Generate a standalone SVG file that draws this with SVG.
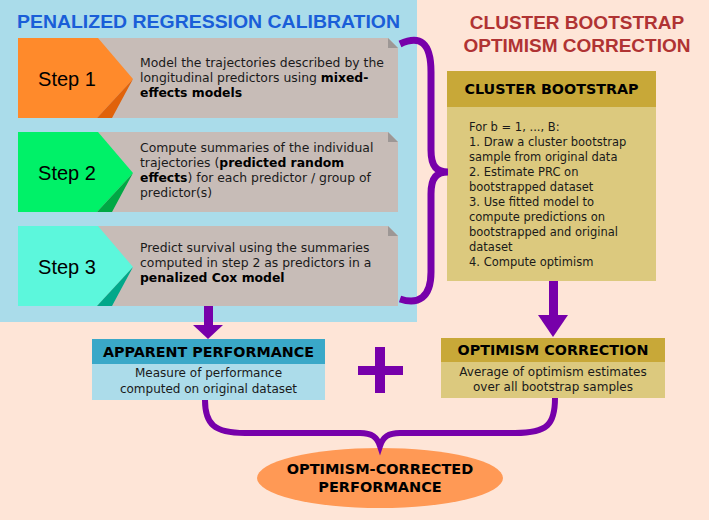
<svg xmlns="http://www.w3.org/2000/svg" width="709" height="520" viewBox="0 0 709 520">
<defs>
<style>
.t{font-family:"DejaVu Sans",sans-serif;font-size:12.4px;fill:#1a1a1a}
.b{font-weight:bold;fill:#000}
.cb{font-family:"DejaVu Sans",sans-serif;font-size:11.5px;fill:#1a1a1a}
.hd{font-family:"DejaVu Sans",sans-serif;font-size:14.3px;font-weight:bold;fill:#000;text-anchor:middle}
.bd{font-family:"DejaVu Sans",sans-serif;font-size:12px;fill:#1a1a1a;text-anchor:middle}
.step{font-family:"Comic Sans MS","Liberation Sans",sans-serif;font-size:20px;fill:#000;text-anchor:middle}
.gray{fill:#c7bcb7}
.ear{fill:#9d9795}
.title{font-family:"Liberation Sans",Arial,sans-serif;font-size:19px;font-weight:bold}
.brace{fill:none;stroke:#7700aa;stroke-width:7;stroke-linecap:butt}
.arr{fill:#7700aa}
</style>
</defs>
<rect x="0" y="0" width="709" height="520" fill="#fee5d7"/>
<rect x="0" y="0" width="417" height="322" fill="#aadcea"/>
<text class="title" x="17" y="28" fill="#1a5ed8" textLength="383" lengthAdjust="spacingAndGlyphs">PENALIZED REGRESSION CALIBRATION</text>
<text class="title" x="577" y="29" fill="#b03333" text-anchor="middle">CLUSTER BOOTSTRAP</text>
<text class="title" x="577" y="52" fill="#b03333" text-anchor="middle">OPTIMISM CORRECTION</text>

<g id="step1">
<polygon class="gray" points="18,38 388,38 398,48 398,118 18,118"/>
<polygon class="ear" points="388,38 388,48 398,48"/>
<polygon fill="#ff8a2b" points="18,38 98,38 133,79 97,118 18,118"/>
<polygon fill="#e0620a" points="97,118 133,79 112,118"/>
<text class="step" x="67" y="86">Step 1</text>
<text class="t" x="140" y="67">Model the trajectories described by the</text>
<text class="t" x="140" y="82">longitudinal predictors using <tspan class="b">mixed-</tspan></text>
<text class="t b" x="140" y="97">effects models</text>
</g>

<g id="step2">
<polygon class="gray" points="18,132 388,132 398,142 398,212 18,212"/>
<polygon class="ear" points="388,132 388,142 398,142"/>
<polygon fill="#00f168" points="18,132 98,132 133,173 97,212 18,212"/>
<polygon fill="#00a844" points="97,212 133,173 112,212"/>
<text class="step" x="67" y="180">Step 2</text>
<text class="t" x="140" y="152">Compute summaries of the individual</text>
<text class="t" x="140" y="167">trajectories (<tspan class="b">predicted random</tspan></text>
<text class="t" x="140" y="182"><tspan class="b">effects</tspan>) for each predictor / group of</text>
<text class="t" x="140" y="197">predictor(s)</text>
</g>

<g id="step3">
<polygon class="gray" points="18,226 388,226 398,236 398,306 18,306"/>
<polygon class="ear" points="388,226 388,236 398,236"/>
<polygon fill="#5cf7dc" points="18,226 98,226 133,267 97,306 18,306"/>
<polygon fill="#00a88a" points="97,306 133,267 112,306"/>
<text class="step" x="67" y="274">Step 3</text>
<text class="t" x="140" y="252">Predict survival using the summaries</text>
<text class="t" x="140" y="267">computed in step 2 as predictors in a</text>
<text class="t b" x="140" y="282">penalized Cox model</text>
</g>

<g id="cluster-bootstrap">
<rect x="447" y="71" width="209" height="210" fill="#dcc97e"/>
<rect x="447" y="71" width="209" height="36" fill="#c8a838"/>
<text class="hd" x="551.5" y="94">CLUSTER BOOTSTRAP</text>
<text class="cb" x="469" y="131">For b = 1, ..., B:</text>
<text class="cb" x="469" y="146">1. Draw a cluster bootstrap</text>
<text class="cb" x="469" y="161">sample from original data</text>
<text class="cb" x="469" y="176">2. Estimate PRC on</text>
<text class="cb" x="469" y="191">bootstrapped dataset</text>
<text class="cb" x="469" y="206">3. Use fitted model to</text>
<text class="cb" x="469" y="221">compute predictions on</text>
<text class="cb" x="469" y="236">bootstrapped and original</text>
<text class="cb" x="469" y="251">dataset</text>
<text class="cb" x="469" y="266">4. Compute optimism</text>
</g>

<g id="apparent-performance">
<rect x="92" y="339" width="233" height="61" fill="#acdcea"/>
<rect x="92" y="339" width="233" height="25" fill="#3aa8c8"/>
<text class="hd" x="208.5" y="357">APPARENT PERFORMANCE</text>
<text class="bd" x="208.5" y="377">Measure of performance</text>
<text class="bd" x="208.5" y="393">computed on original dataset</text>
</g>

<g id="plus">
<rect x="375" y="347" width="10" height="46" class="arr"/>
<rect x="358" y="366" width="45" height="9" class="arr"/>
</g>

<g id="optimism-correction">
<rect x="441" y="338" width="224" height="60" fill="#dcc97e"/>
<rect x="441" y="338" width="224" height="24" fill="#c8a838"/>
<text class="hd" x="553" y="355">OPTIMISM CORRECTION</text>
<text class="bd" x="553" y="376">Average of optimism estimates</text>
<text class="bd" x="553" y="391">over all bootstrap samples</text>
</g>

<g id="optimism-corrected-performance">
<ellipse cx="380" cy="478" rx="123" ry="30" fill="#ff9955"/>
<text class="hd" x="380" y="474" style="font-size:14.5px">OPTIMISM-CORRECTED</text>
<text class="hd" x="380" y="492" style="font-size:14.5px">PERFORMANCE</text>
</g>

<g id="connectors">
<path class="brace" d="M400,44 C420,35 431,42 431,72 L431,150 C431,167 437,172 448,172 C437,172 431,177 431,194 L431,272 C431,298 418,305 400,299"/>
<rect x="204" y="306" width="9" height="20" class="arr"/>
<polygon class="arr" points="193,325 223,325 208,339"/>
<rect x="549" y="281" width="9" height="35" class="arr"/>
<polygon class="arr" points="538,315 568,315 553,337"/>
<path class="brace" style="stroke-width:6" d="M205,400 C205,424 214,433 245,433 L360,433 C372,433 377,437 380,446 C383,437 388,433 400,433 L515,433 C548,433 555,424 555,398"/>
</g>
</svg>
